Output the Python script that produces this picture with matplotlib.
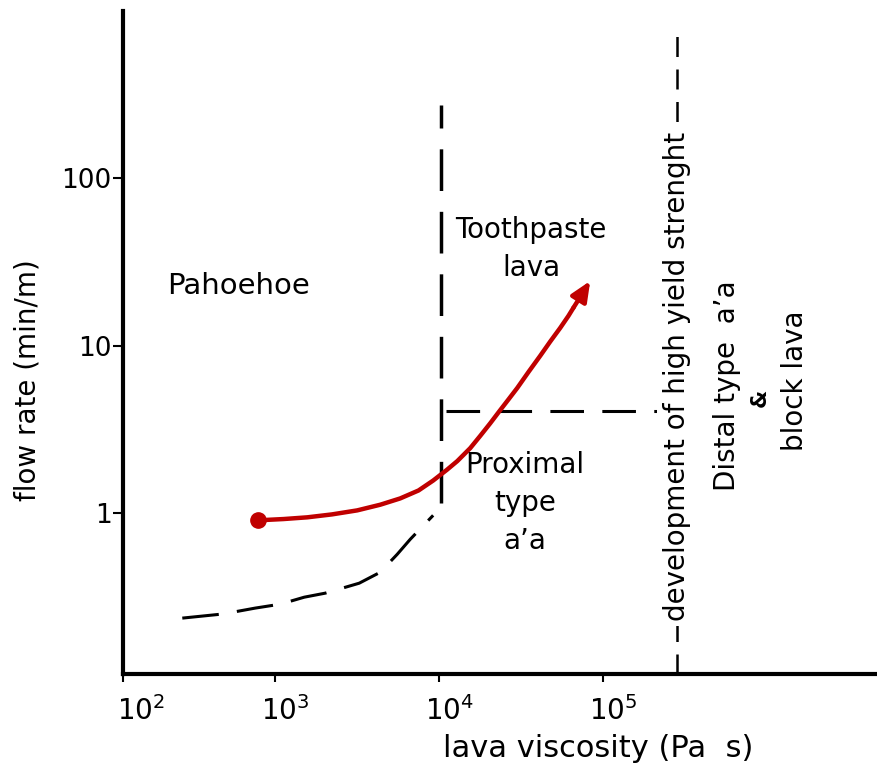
import matplotlib.pyplot as plt
import matplotlib.transforms as mtransforms
import numpy as np

# lava regime diagram: viscosity vs flow rate
tick_x = [10**2.07, 1e3, 1e4, 1e5]
tick_x_labels = ['$10^2$', '$10^3$', '$10^4$', '$10^5$']
tick_y = [1, 10, 100]
tick_y_labels = ['1', '10', '100']

# pahoehoe / a'a transition (lower dashed curve)
trans_visc = [271, 482, 755, 1072, 1503, 2018, 3251, 4365, 5546, 6653, 9183]
trans_rate = [0.237, 0.251, 0.272, 0.287, 0.316, 0.334, 0.383, 0.445, 0.570, 0.700, 0.973]

# red path
path_visc = [788, 1124, 1567, 2218, 3162, 4365, 5780, 7480, 9190, 11140, 12880,
             15450, 17780, 20470, 23400, 26500, 29900, 35100, 41300, 47500,
             54700, 61400, 65900, 83400]
path_rate = [0.909, 0.925, 0.947, 0.986, 1.042, 1.126, 1.228, 1.37, 1.571, 1.82, 2.05,
             2.45, 2.90, 3.45, 4.10, 4.80, 5.60, 7.0, 8.72, 10.6,
             12.8, 15.1, 16.9, 24.4]

# boundaries
vbound1_visc = 1.03e4
vbound1_rate = [1.16, 275]
hbound_rate = 4.1
hbound_visc = [11000, 2.8e5]
yield_visc = 2.8e5

fig = plt.figure(figsize=(8.77, 7.72), dpi=100)
ax = fig.add_axes([0.140, 0.127, 0.860, 0.859])
ax.set_xscale('log')
ax.set_yscale('log')
ax.set_xlim(10**2.07, 10**6.67)
ax.set_ylim(0.11, 1000)

for s in ['top', 'right']:
    ax.spines[s].set_visible(False)
for s in ['left', 'bottom']:
    ax.spines[s].set_linewidth(3)

ax.set_xticks(tick_x)
ax.set_xticklabels(tick_x_labels, fontsize=20)
ax.set_yticks(tick_y)
ax.set_yticklabels(tick_y_labels, fontsize=19)
ax.minorticks_off()
ax.tick_params(axis='y', length=7, width=1.5, pad=1)
ax.tick_params(axis='x', length=6, width=1.5, pad=10)
shift = mtransforms.ScaledTranslation(10 / 100, 0, fig.dpi_scale_trans)
for i, lab in enumerate(ax.get_xticklabels()):
    extra = mtransforms.ScaledTranslation(0.08, 0, fig.dpi_scale_trans) if i == 0 else \
        mtransforms.ScaledTranslation(0, 0, fig.dpi_scale_trans)
    lab.set_transform(lab.get_transform() + shift + extra)

ax.plot(trans_visc, trans_rate, color='black', lw=2.2, linestyle=(0, (12, 6)))
ax.plot([vbound1_visc, vbound1_visc], vbound1_rate, color='black', lw=2.5,
        linestyle=(0, (12, 6)))
ax.plot(hbound_visc, [hbound_rate, hbound_rate], color='black', lw=2.2,
        linestyle=(0, (11, 6)))
ax.plot([yield_visc, yield_visc], [0.11, 800], color='black', lw=1.8,
        linestyle=(0, (8, 5)))

ax.text(yield_visc, 6.6, 'development of high yield strenght', rotation=90,
        ha='center', va='center', fontsize=20,
        bbox=dict(facecolor='white', edgecolor='none', pad=4))

# red path with arrow and start dot
ax.plot(path_visc[:-1], path_rate[:-1], color='#c00000', lw=3.2,
        solid_capstyle='round', solid_joinstyle='round')
ax.annotate('', xy=(path_visc[-1], path_rate[-1]), xytext=(path_visc[-2], path_rate[-2]),
            arrowprops=dict(arrowstyle='-|>,head_length=0.5,head_width=0.22',
                            color='#c00000', lw=3.2,
                            mutation_scale=24, shrinkA=0, shrinkB=0))
ax.plot(path_visc[0], path_rate[0], 'o', color='#c00000', markersize=11)

ax.text(595, 22.8, 'Pahoehoe', ha='center', va='center', fontsize=21)
ax.text(36400, 37.8, 'Toothpaste\nlava', ha='center', va='center', fontsize=20,
        linespacing=1.45)
ax.text(33400, 1.15, "Proximal\ntype\na\u2019a", ha='center', va='center', fontsize=20,
        linespacing=1.45)
ax.text(5.7e5, 5.8, "Distal type  a\u2019a", rotation=90, ha='center', va='center',
        fontsize=20)
ax.text(9.0e5, 4.9, "&", rotation=90, ha='center', va='center', fontsize=15,
        fontweight='bold')
ax.text(1.48e6, 6.2, "block lava", rotation=90, ha='center', va='center', fontsize=20)

ax.set_xlabel('lava viscosity (Pa  s)', fontsize=22, labelpad=6, x=0.63)
ax.set_ylabel('flow rate (min/m)', fontsize=20, labelpad=14, y=0.443)

fig.savefig('out.png', dpi=100)
